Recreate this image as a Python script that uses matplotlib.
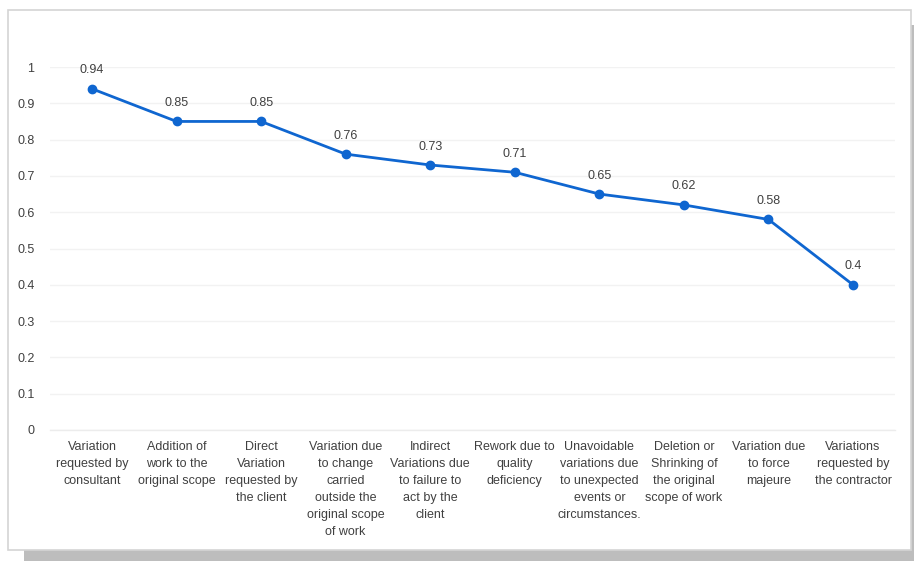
import matplotlib
matplotlib.use("Agg")
import matplotlib.pyplot as plt
from matplotlib.patches import Rectangle

categories = [
    "Variation\nrequested by\nconsultant",
    "Addition of\nwork to the\noriginal scope",
    "Direct\nVariation\nrequested by\nthe client",
    "Variation due\nto change\ncarried\noutside the\noriginal scope\nof work",
    "Indirect\nVariations due\nto failure to\nact by the\nclient",
    "Rework due to\nquality\ndeficiency",
    "Unavoidable\nvariations due\nto unexpected\nevents or\ncircumstances.",
    "Deletion or\nShrinking of\nthe original\nscope of work",
    "Variation due\nto force\nmajeure",
    "Variations\nrequested by\nthe contractor",
]
values = [0.94, 0.85, 0.85, 0.76, 0.73, 0.71, 0.65, 0.62, 0.58, 0.4]
yticks = [0, 0.1, 0.2, 0.3, 0.4, 0.5, 0.6, 0.7, 0.8, 0.9, 1]
ytick_labels = ["0", "0.1", "0.2", "0.3", "0.4", "0.5", "0.6", "0.7", "0.8", "0.9", "1"]

plt.rcParams['font.family'] = ['Liberation Sans', 'DejaVu Sans']

W, H = 914, 561
fig = plt.figure(figsize=(W/100, H/100), dpi=100)
fig.patch.set_facecolor("white")

# shadow and border
fig.patches.append(Rectangle((24/W, 0), (W-24)/W, 11/H, transform=fig.transFigure,
                             facecolor="#bdbdbd", edgecolor="none", zorder=-3))
fig.patches.append(Rectangle((911/W, 0), 3/W, (H-25)/H, transform=fig.transFigure,
                             facecolor="#bdbdbd", edgecolor="none", zorder=-3))
fig.patches.append(Rectangle((8/W, (H-550)/H), (911-8)/W, (550-10)/H, transform=fig.transFigure,
                             facecolor="white", edgecolor="#d4d4d4", linewidth=1.2, zorder=-2))

left, right = 49.7, 895.3
top, bottom = 67, 430
ax = fig.add_axes([left/W, (H-bottom)/H, (right-left)/W, (bottom-top)/H])
ax.set_zorder(5)
ax.set_facecolor("none")

x = list(range(len(values)))
ax.plot(x, values, color="#0f66d0", linewidth=2, marker="o", markersize=6, zorder=3)
for xi, v in zip(x, values):
    ax.annotate(f"{v:g}", (xi, v), xytext=(0, 9), textcoords="offset points",
                ha="center", va="bottom", fontsize=9, color="#404040")

ax.set_xlim(-0.5, len(values) - 0.5)
ax.set_ylim(0, 1)
ax.set_yticks(yticks)
ax.set_yticklabels(ytick_labels, fontsize=9, color="#404040")
ax.set_xticks(x)
ax.set_xticklabels(categories, fontsize=9, color="#404040", linespacing=1.56)
ax.tick_params(axis="both", length=0)
ax.tick_params(axis="y", pad=11)
ax.tick_params(axis="x", pad=8)
ax.grid(axis="y", color="#f2f2f2", linewidth=1)
ax.axhline(0, color="#ececec", linewidth=1, clip_on=False, zorder=1)
ax.set_axisbelow(True)
for s in ax.spines.values():
    s.set_visible(False)

fig.savefig("out.png", dpi=100)
